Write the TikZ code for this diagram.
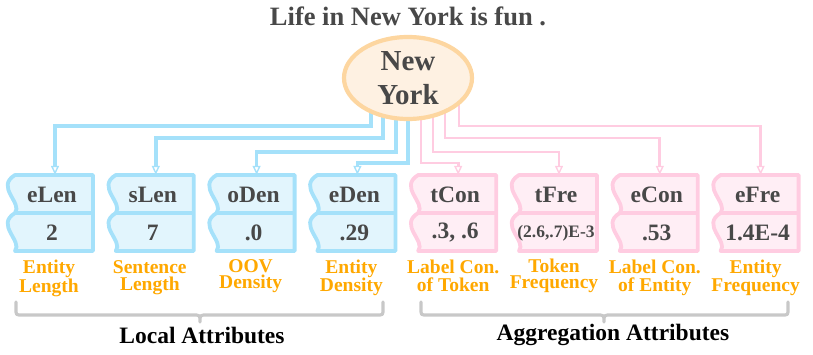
\documentclass[tikz,border=0pt]{standalone}
\usepackage{fontspec}
\setmainfont{Liberation Serif}
\usetikzlibrary{arrows.meta,backgrounds,calc,shapes.geometric}
\definecolor{txtgray}{RGB}{72,72,72}
\definecolor{bluefill}{RGB}{226,245,253}
\definecolor{blueline}{RGB}{165,225,250}
\definecolor{pinkfill}{RGB}{255,238,245}
\definecolor{pinkline}{RGB}{255,204,225}
\definecolor{peachfill}{RGB}{254,241,226}
\definecolor{peachline}{RGB}{253,214,160}
\definecolor{labelorange}{RGB}{255,168,0}
\definecolor{bracegray}{RGB}{200,200,200}
\tikzset{
  boxarea/.style={rectangle, minimum width=76pt, minimum height=76pt, inner sep=0pt},
  boxtext/.style={text=txtgray, font=\fontsize{23.5}{23.5}\selectfont\bfseries, inner sep=0pt},
  attrlabel/.style={text=labelorange, align=center, anchor=north, inner sep=0pt,
     font=\fontsize{19.5}{#1}\selectfont\bfseries},
  bconn/.style={draw=blueline, line width=3.4pt,
     -{Triangle[open,length=9pt,width=8pt,line width=1.4pt]}},
  pconn/.style={draw=pinkline, line width=2.8pt,
     -{Triangle[open,length=9pt,width=8pt,line width=1.4pt]}},
  bracestyle/.style={draw=bracegray, line width=3.2pt, line cap=round, line join=round},
  grouptext/.style={text=black, font=\fontsize{23.5}{23.5}\selectfont\bfseries, inner sep=0pt}
}
\newcommand\attrbox[6]{%
  \pgfmathsetmacro\bxL{#2}
  \filldraw[fill=#5fill, draw=#5line, line width=3.8pt, line join=round]
    (\bxL+10,175) -- (\bxL+88,175) -- (\bxL+88,251) -- (\bxL+10,251)
    .. controls (\bxL+18,241) and (\bxL-10,225) .. (\bxL+10,213)
    .. controls (\bxL+18,203) and (\bxL-10,187) .. (\bxL+10,175) -- cycle;
  \draw[draw=#5line, line width=3.8pt] (\bxL+10,213) -- (\bxL+88,213);
  \node[boxarea] (b#1) at (\bxL+50,213) {};
  \node[boxtext] (h#1) at (\bxL+47,195) {#3};
  \node[boxtext, font=\fontsize{#6}{#6}\selectfont\bfseries] (v#1) at (\bxL+47,233) {#4};
}
\begin{document}
\begin{tikzpicture}[x=1pt,y=-1pt]
\useasboundingbox (0,0) rectangle (813,355);
% title
\node[text=txtgray, font=\fontsize{26.5}{30}\selectfont\bfseries, inner sep=0pt] (title) at (408,16) {Life in New York is fun .};
% entity
\node[ellipse, draw=peachline, fill=peachfill, line width=4.2pt, minimum width=128pt,
  minimum height=82pt, inner sep=0pt, text=txtgray, align=center,
  font=\fontsize{29}{34}\selectfont\bfseries] (nyc) at (408,78) {New\\York};
% boxes
\attrbox{1}{5}{eLen}{2}{blue}{23.5}
\attrbox{2}{105.8}{sLen}{7}{blue}{23.5}
\attrbox{3}{206.6}{oDen}{.0}{blue}{23.5}
\attrbox{4}{307.4}{eDen}{.29}{blue}{23.5}
\attrbox{5}{408.2}{tCon}{.3, .6}{pink}{23.5}
\attrbox{6}{509}{tFre}{(2.6,.7)E-3}{pink}{17.5}
\attrbox{7}{609.8}{eCon}{.53}{pink}{23.5}
\attrbox{8}{710.6}{eFre}{1.4E-4}{pink}{23.5}
% labels
\node[attrlabel=17.5] (l1) at (49,260) {Entity\\Length};
\node[attrlabel=17.5] (l2) at (149.8,260) {Sentence\\Length};
\node[attrlabel=16] (l3) at (250.6,259) {OOV\\Density};
\node[attrlabel=18] (l4) at (351.4,260) {Entity\\Density};
\node[attrlabel=17.5] (l5) at (453.2,260) {Label Con.\\of Token};
\node[attrlabel=16] (l6) at (554,259) {Token\\Frequency};
\node[attrlabel=17.5] (l7) at (654.8,260) {Label Con.\\of Entity};
\node[attrlabel=16] (l8) at (755.6,260) {Entity\\Frequency};
% connectors
\coordinate (s1) at (371,78);
\coordinate (s2) at (383,78);
\coordinate (s3) at (396,78);
\coordinate (s4) at (408,78);
\coordinate (s5) at (421,78);
\coordinate (s6) at (433,78);
\coordinate (s7) at (445,78);
\coordinate (s8) at (459,78);
\begin{pgfonlayer}{background}
\draw[bconn] (s1) -- ++(0,48) -| (b1.north);
\draw[bconn] (s2) -- ++(0,60) -| (b2.north);
\draw[bconn] (s3) -- ++(0,74) -| (b3.north);
\draw[bconn] (s4) -- ++(0,85) -| (b4.north);
\draw[pconn] (s5) -- ++(0,85) -| (b5.north);
\draw[pconn] (s6) -- ++(0,74) -| (b6.north);
\draw[pconn] (s7) -- ++(0,60) -| (b7.north);
\draw[pconn] (s8) -- ++(0,48) -| (b8.north);
\end{pgfonlayer}
% braces
\draw[bracestyle] (16,302) -- (16,309) .. controls (16,315) .. (22,315) -- (193,315)
  .. controls (200,315) .. (200,322) .. controls (200,315) .. (207,315) -- (377,315)
  .. controls (383,315) .. (383,309) -- (383,302);
\draw[bracestyle] (421,302) -- (421,309) .. controls (421,315) .. (427,315) -- (597,315)
  .. controls (604,315) .. (604,322) .. controls (604,315) .. (611,315) -- (782,315)
  .. controls (788,315) .. (788,309) -- (788,302);
\node[grouptext] (local) at (202,335) {Local Attributes};
\node[grouptext] (aggr) at (613,335) {Aggregation Attributes};
\end{tikzpicture}
\end{document}
